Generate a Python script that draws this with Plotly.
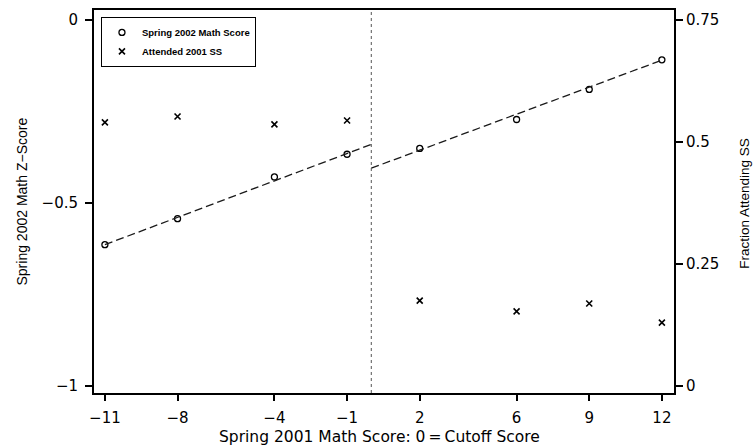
import plotly.graph_objects as go

# ---- data ----
scores = [-11, -8, -4, -1, 2, 6, 9, 12]
math_z = [-0.614, -0.543, -0.429, -0.367, -0.351, -0.272, -0.190, -0.109]
frac_ss = [0.540, 0.552, 0.536, 0.544, 0.175, 0.153, 0.169, 0.130]

fit_left_x = [-11, 0]
fit_left_y = [-0.614, -0.340]
fit_right_x = [0, 12]
fit_right_y = [-0.405, -0.110]

x_ticks = [-11, -8, -4, -1, 2, 6, 9, 12]
x_ticktext = ["\u221211", "\u22128", "\u22124", "\u22121", "2", "6", "9", "12"]
y_ticks = [-1, -0.5, 0]
y_ticktext = ["\u22121", "\u22120.5", "0"]
y2_ticks = [0, 0.25, 0.5, 0.75]
y2_ticktext = ["0", "0.25", "0.5", "0.75"]

tick_font = dict(family="DejaVu Sans", size=15, color="black")

fig = go.Figure()

fig.add_trace(go.Scatter(
    x=scores, y=math_z, mode="markers", name="Spring 2002 Math Score",
    marker=dict(symbol="circle-open", size=6, color="black", line=dict(width=1.3, color="black")),
    yaxis="y"))
fig.add_trace(go.Scatter(
    x=scores, y=frac_ss, mode="markers", name="Attended 2001 SS",
    marker=dict(symbol="x-thin", size=6, color="black", line=dict(width=1.6, color="black")),
    yaxis="y2"))
fig.add_trace(go.Scatter(
    x=fit_left_x, y=fit_left_y, mode="lines", showlegend=False,
    line=dict(color="#1a1a1a", width=1.3, dash="8px,4px"), yaxis="y"))
fig.add_trace(go.Scatter(
    x=fit_right_x, y=fit_right_y, mode="lines", showlegend=False,
    line=dict(color="#1a1a1a", width=1.3, dash="8px,4px"), yaxis="y"))

# cutoff line
fig.add_shape(type="line", xref="x", yref="paper", x0=0, x1=0, y0=0, y1=1,
              line=dict(color="#555555", width=1, dash="dot"))

axis_common = dict(showgrid=False, zeroline=False, showline=True, linecolor="black",
                   linewidth=2, ticks="outside", tickcolor="black", tickwidth=1.5,
                   tickfont=tick_font)

fig.update_layout(
    width=756, height=447,
    margin=dict(l=94, r=82, t=8, b=54),
    paper_bgcolor="white", plot_bgcolor="white",
    font=dict(family="Arial", color="black"),
    xaxis=dict(range=[-11.45, 12.5], tickvals=x_ticks, ticktext=x_ticktext,
               ticklen=6, mirror=True, ticklabelstandoff=4, **axis_common),
    yaxis=dict(range=[-1.019, 0.027], tickvals=y_ticks, ticktext=y_ticktext,
               ticklen=7, mirror=True, ticklabelstandoff=4, **axis_common),
    yaxis2=dict(range=[-0.01425, 0.77025], tickvals=y2_ticks, ticktext=y2_ticktext,
                overlaying="y", side="right", ticklen=7, **axis_common),
    legend=dict(x=0.012, y=0.982, xanchor="left", yanchor="top",
                bordercolor="black", borderwidth=1, bgcolor="white",
                font=dict(family="Arial", size=9.5, color="black", weight="bold"),
                itemwidth=30, tracegroupgap=0),
    showlegend=True,
    annotations=[
        dict(text="Spring 2001 Math Score: 0\u2009=\u2009Cutoff Score", xref="paper", yref="paper",
             x=0.493, y=0, yshift=-44, xanchor="center", yanchor="middle", showarrow=False,
             font=dict(family="DejaVu Sans", size=15.5, color="black")),
        dict(text="Spring 2002 Math Z\u2212Score", xref="paper", yref="paper",
             x=0, xshift=-73, y=0.5, xanchor="center", yanchor="middle", textangle=-90,
             showarrow=False, font=dict(family="Arial", size=14, color="black")),
        dict(text="Fraction Attending SS", xref="paper", yref="paper",
             x=1, xshift=71, y=0.494, xanchor="center", yanchor="middle", textangle=-90,
             showarrow=False, font=dict(family="Arial", size=13.5, color="black")),
    ],
)

fig.write_html("out.html")
